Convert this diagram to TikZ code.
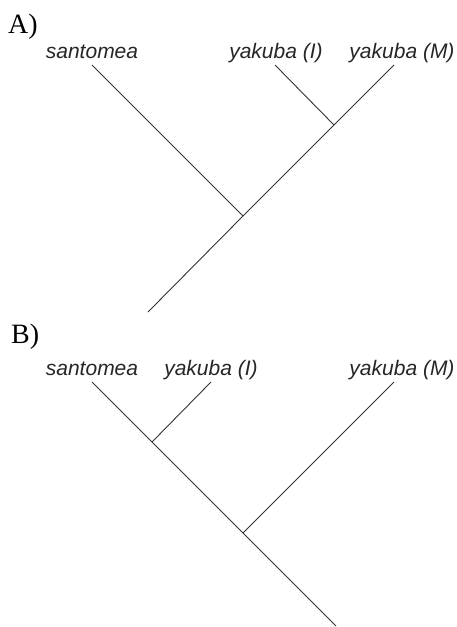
\documentclass[tikz,border=0pt]{standalone}
\usepackage{fontspec}
\setmainfont{Liberation Serif}
\newfontfamily\labfont{Liberation Sans}
\begin{document}
\begin{tikzpicture}[x=1pt,y=-1pt,
  branch/.style={line width=0.9pt, draw=black!80},
  taxon/.style={font=\labfont\itshape\fontsize{21}{21}\selectfont, anchor=base, inner sep=0pt, text=black!85},
  panel/.style={font=\fontsize{28}{28}\selectfont, anchor=base west, inner sep=0pt}]
\useasboundingbox (0,0) rectangle (457,627);

% ---------- Tree A ----------
\node[panel] (pA) at (8,33) {A)};
\node[taxon] (aS) at (92,58) {santomea};
\node[taxon] (aI) at (276,58) {yakuba (I)};
\node[taxon] (aM) at (402,58) {yakuba (M)};
\coordinate (aSt) at (92,65);
\coordinate (aIt) at (275,65);
\coordinate (aMt) at (394,65);
\coordinate (aJ1) at (334,125);
\coordinate (aJ2) at (243,216);
\coordinate (aR) at (148,312);
\draw[branch] (aSt) -- (aJ2);
\draw[branch] (aIt) -- (aJ1);
\draw[branch] (aMt) -- (aJ1) -- (aJ2) -- (aR);

% ---------- Tree B ----------
\node[panel] (pB) at (11,343) {B)};
\node[taxon] (bS) at (92,375) {santomea};
\node[taxon] (bI) at (211,375) {yakuba (I)};
\node[taxon] (bM) at (402,375) {yakuba (M)};
\coordinate (bSt) at (92,382);
\coordinate (bIt) at (211,382);
\coordinate (bMt) at (394,382);
\coordinate (bJ1) at (152,442);
\coordinate (bJ2) at (243,533);
\coordinate (bR) at (336,626);
\draw[branch] (bSt) -- (bJ1) -- (bJ2) -- (bR);
\draw[branch] (bIt) -- (bJ1);
\draw[branch] (bMt) -- (bJ2);
\end{tikzpicture}
\end{document}
